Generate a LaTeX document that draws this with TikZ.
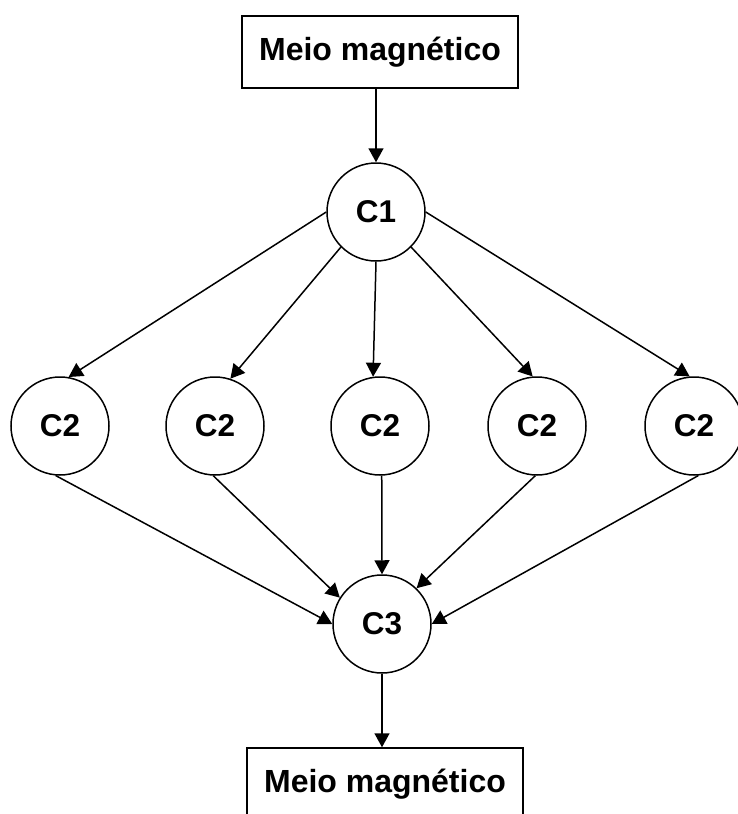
\documentclass[tikz,border=0pt]{standalone}
\usepackage{fontspec}
\setmainfont{Liberation Sans}
\usetikzlibrary{arrows.meta}
\begin{document}
\begin{tikzpicture}[x=1pt,y=-1pt,
  every path/.style={line width=1.5pt},
  medium/.style={draw,line width=1.5pt,rectangle,minimum width=276pt,minimum height=72pt,inner sep=0pt,
    font=\fontsize{32}{36}\selectfont\bfseries},
  proc/.style={draw,line width=1.5pt,circle,minimum size=98pt,inner sep=0pt,
    font=\fontsize{31.5}{35}\selectfont\bfseries},
  flow/.style={-{Triangle[length=14pt,width=15pt]},line width=1.5pt}]
\useasboundingbox (0,0) rectangle (738,814);
% storage at the ends
\node[medium] (top) at (380,52) {Meio magnético};
\node[medium] (bot) at (385,784) {Meio magnético};
% processing stages
\node[proc] (c1) at (376,212) {C1};
\node[proc] (c2a) at (60,426) {C2};
\node[proc] (c2b) at (215,426) {C2};
\node[proc] (c2c) at (380,426) {C2};
\node[proc] (c2d) at (537,426) {C2};
\node[proc] (c2e) at (694,426) {C2};
\node[proc] (c3) at (382,624) {C3};
% input
\draw[flow] (c1 |- top.south) -- (c1.north);
% fan out
\draw[flow] (c1.west) -- (c2a.80);
\draw[flow] (c1.225) -- (c2b.72);
\draw[flow] (c1.south) -- (c2c.98);
\draw[flow] (c1.315) -- (c2d.95);
\draw[flow] (c1.east) -- (c2e.95);
% fan in
\draw[flow] (c2a.265) -- (c3.west);
\draw[flow] (c2b.268) -- (c3.148);
\draw[flow] (c2c.272) -- (c3.north);
\draw[flow] (c2d.268) -- (c3.46);
\draw[flow] (c2e.275) -- (c3.east);
% output
\draw[flow] (c3.south) -- (c3 |- bot.north);
\end{tikzpicture}
\end{document}
